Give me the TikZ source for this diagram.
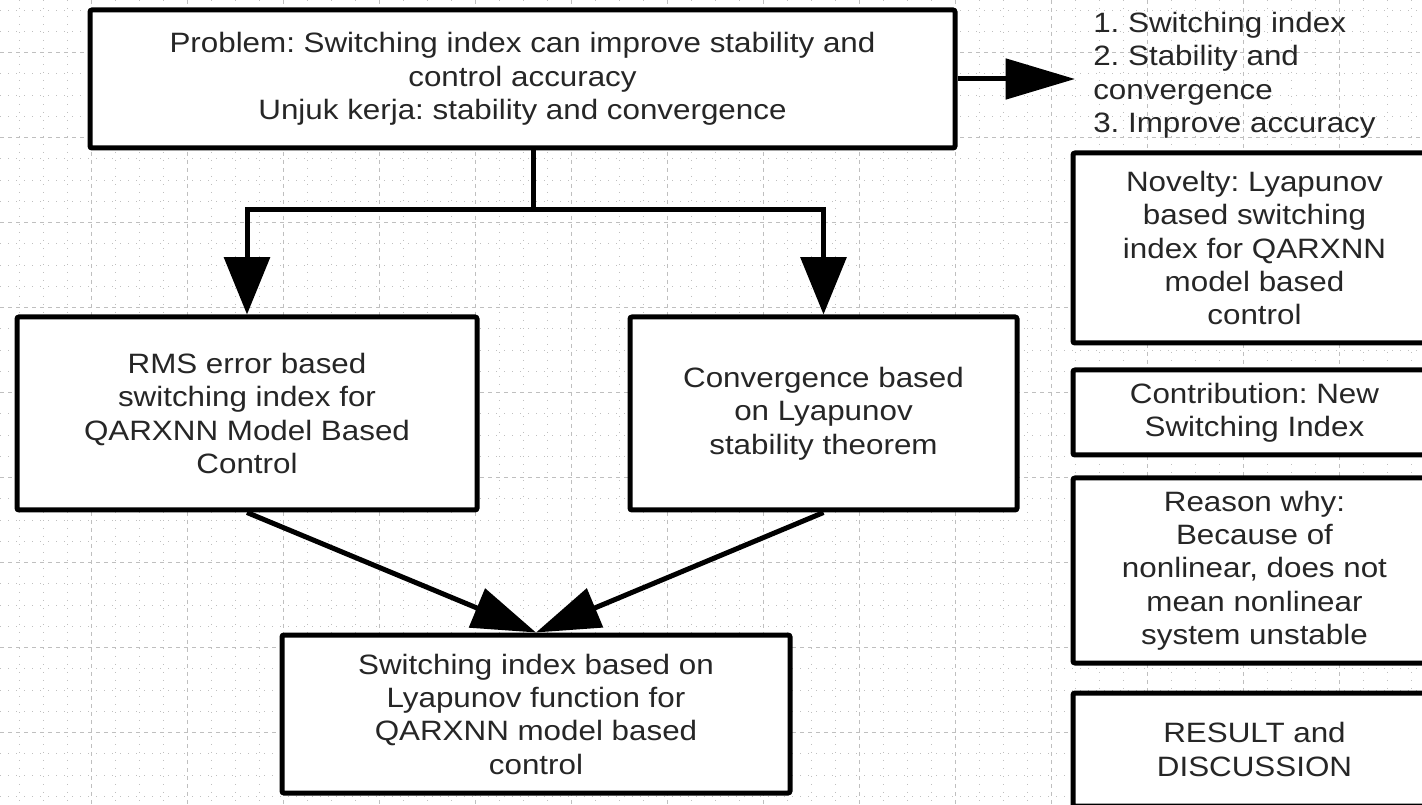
\documentclass[tikz,border=0pt]{standalone}
\usepackage{fontspec}
\setmainfont[FakeStretch=1.12]{Liberation Sans}
\usetikzlibrary{arrows.meta}
\frenchspacing

\begin{document}
\begin{tikzpicture}[x=0.75pt,y=0.75pt,yscale=-1,xscale=1,
    box/.style={draw=black, line width=3.75pt, fill=white, rounded corners=1.5pt, align=center, inner sep=0pt, text=black!85, font=\fontsize{21}{25}\selectfont},
    flow/.style={line width=3.75pt, -{Triangle[length=43pt,width=34pt]}},
    minorgrid/.style={gray!50, line width=0.6pt, dash pattern=on 0.8pt off 5.2pt},
    majorgrid/.style={gray!50, line width=0.75pt, dash pattern=on 3pt off 3pt}]
    \useasboundingbox (0,0) rectangle (1422,805);
    \clip (0,0) rectangle (1422,805);

    %Shape: Grid
    \foreach \gx in {19,43,...,1420} \draw[minorgrid] (\gx,0) -- (\gx,805);
    \foreach \gy in {10,31.25,...,805} \draw[minorgrid] (0,\gy) -- (1422,\gy);
    \foreach \gx in {91,187,...,1420} \draw[majorgrid] (\gx,0) -- (\gx,805);
    \foreach \gy in {52.5,137.5,...,805} \draw[majorgrid] (0,\gy) -- (1422,\gy);

    % Text Node
    \node[box, minimum width=648.75pt, minimum height=103.5pt] (problem) at (522.5,79) {Problem: Switching index can improve stability and\\ control accuracy\\ Unjuk kerja: stability and convergence};
    % Text Node
    \node[anchor=north west, align=left, inner sep=0pt, text=black!85, font=\fontsize{21}{25}\selectfont] (aims) at (1093,12) {1. Switching index\\ 2. Stability and\\ convergence\\ 3. Improve accuracy};
    % Text Node
    \node[box, minimum width=345pt, minimum height=144.75pt] (rms) at (247,413.5) {RMS error based\\ switching index for\\ QARXNN Model Based\\ Control};
    % Text Node
    \node[box, minimum width=290.25pt, minimum height=144.75pt] (conv) at (823.5,413.5) {Convergence based\\ on Lyapunov\\ stability theorem};
    % Text Node
    \node[box, minimum width=381pt, minimum height=118.5pt] (lyap) at (536,714) {Switching index based on\\ Lyapunov function for\\ QARXNN model based\\ control};

    % Text Node
    \node[box, minimum width=272.25pt, minimum height=142.5pt] (novelty) at (1254.5,248) {Novelty: Lyapunov\\ based switching\\ index for QARXNN\\ model based\\ control};
    % Text Node
    \node[box, minimum width=272.25pt, minimum height=63.75pt] (contrib) at (1254.5,412.5) {Contribution: New\\ Switching Index};
    % Text Node
    \node[box, minimum width=272.25pt, minimum height=138.75pt] (reason) at (1254.5,570.5) {Reason why:\\ Because of\\ nonlinear, does not\\ mean nonlinear\\ system unstable};
    % Text Node
    \node[box, minimum width=272.25pt, minimum height=84.75pt] (result) at (1254.5,749.5) {RESULT and\\ DISCUSSION};

    % Connectors
    \coordinate (split) at (533,210);
    \draw[line width=3.75pt] (problem.south -| split) -- (split);
    \draw[flow] (split) -| (rms.north);
    \draw[flow] (split) -| (conv.north);
    \draw[flow, -{Triangle[length=52pt,width=30pt]}, shorten >=13.5pt] (problem.east) -- (problem.east -| aims.west);
    \draw[flow, -{Triangle[length=48pt,width=31pt]}] (rms.south) -- (lyap.north);
    \draw[flow, -{Triangle[length=48pt,width=31pt]}] (conv.south) -- (lyap.north);
\end{tikzpicture}
\end{document}
